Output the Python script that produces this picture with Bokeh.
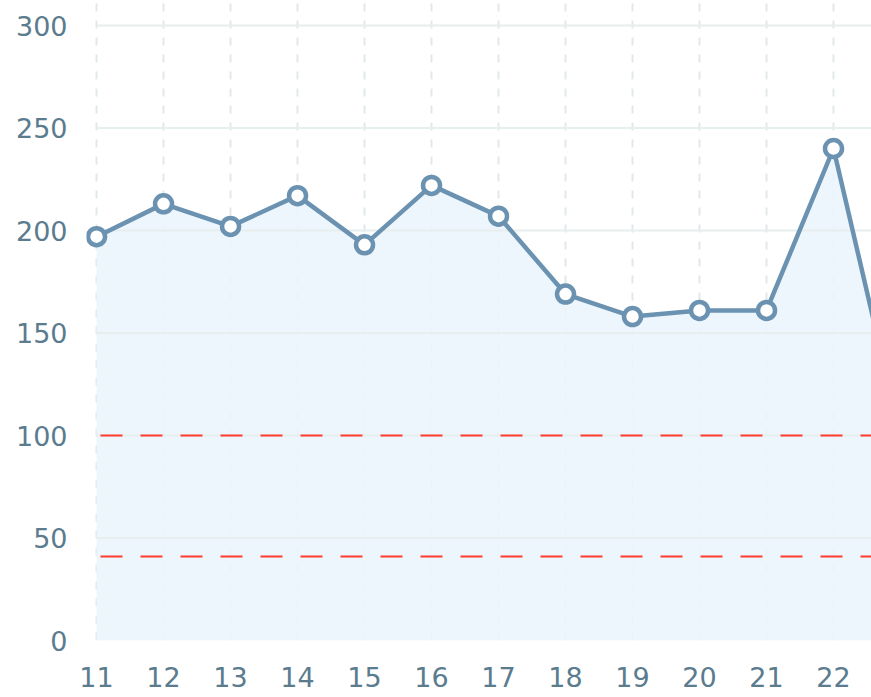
from bokeh.plotting import figure
from bokeh.models import FixedTicker, Range1d, Span
from bokeh.embed import file_html
from bokeh.resources import INLINE

# Data
days = [11, 12, 13, 14, 15, 16, 17, 18, 19, 20, 21, 22, 23]
values = [197, 213, 202, 217, 193, 222, 207, 169, 158, 161, 161, 240, 100]
x_ticks = [11, 12, 13, 14, 15, 16, 17, 18, 19, 20, 21, 22]
y_ticks = [0, 50, 100, 150, 200, 250, 300]
limit_lines = [100, 41]

LINE = "#6b93b1"
TEXT = "#5b7b8e"
FONT = "DejaVu Sans"

p = figure(width=871, height=697, output_backend="svg", toolbar_location=None,
           x_range=Range1d(10.85, 22.567), y_range=Range1d(0, 312.2),
           min_border_left=86, min_border_right=0, min_border_top=0, min_border_bottom=57)
p.outline_line_color = None
p.background_fill_color = "white"
p.border_fill_color = "white"

# area under the line
p.varea(x=days, y1=[0] * len(days), y2=values, fill_color="#ebf4fd", fill_alpha=0.85)

# horizontal grid lines starting at the first category
hg = [t for t in y_ticks if t > 0]
p.segment(x0=[days[0]] * len(hg), x1=[days[-1]] * len(hg), y0=hg, y1=hg,
          line_color="#e6eeee", line_width=2)

for v in limit_lines:
    p.add_layout(Span(location=v, dimension="width", line_color="#ff3b30",
                      line_width=2, line_dash="22 18", line_dash_offset=26))

p.line(days, values, line_color=LINE, line_width=4.5)
p.scatter(days, values, size=17, fill_color="white", line_color=LINE, line_width=4.5)

p.ygrid.grid_line_color = None
p.xgrid.grid_line_color = "#e2e8e8"
p.xgrid.grid_line_width = 2
p.xgrid.grid_line_dash = "8 9"

p.xaxis.ticker = FixedTicker(ticks=x_ticks)
p.yaxis.ticker = FixedTicker(ticks=y_ticks)
for ax in (p.xaxis[0], p.yaxis[0]):
    ax.axis_line_color = None
    ax.major_tick_line_color = None
    ax.minor_tick_line_color = None
    ax.major_tick_out = 0
    ax.major_tick_in = 0
    ax.minor_tick_out = 0
    ax.major_label_text_font = FONT
    ax.major_label_text_font_size = "27px"
    ax.major_label_text_color = TEXT
p.xaxis.major_label_standoff = 26
p.yaxis.major_label_standoff = 19

open("out.html", "w").write(file_html(p, INLINE))
